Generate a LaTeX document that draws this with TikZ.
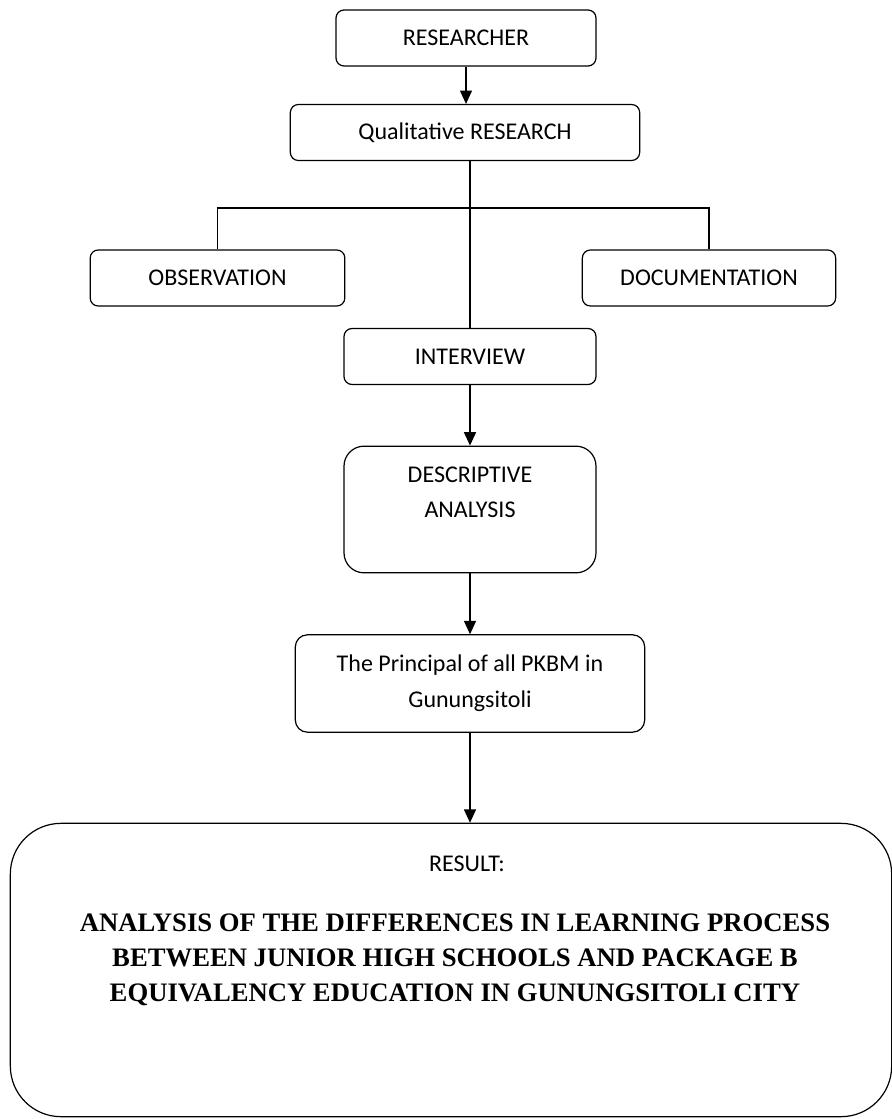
\documentclass[tikz,border=0pt]{standalone}
\usepackage{fontspec}
\setmainfont{Carlito}
\newfontfamily\titlefont{Liberation Serif}
\usetikzlibrary{positioning, arrows.meta}

\begin{document}
\begin{tikzpicture}[
  x=0.75pt, y=-0.75pt,
  every node/.style={font=\fontsize{18}{26}\selectfont},
  box/.style={draw, line width=0.9pt, rounded corners=6pt, align=center, minimum height=42pt, inner sep=0pt},
  tallbox/.style={box, rounded corners=15pt},
  resbox/.style={draw, line width=0.9pt, rounded corners=38pt, minimum width=661pt, minimum height=220pt},
  link/.style={line width=0.9pt},
  arr/.style={link, -{Triangle[length=10pt, width=9pt]}}
]
\useasboundingbox (0,0) rectangle (891,1119);
\node[box, minimum width=195pt] (res)  at (466, 38)    {RESEARCHER};
\node[box, minimum width=262pt] (qual) at (465, 132.5) {Qualitative RESEARCH};
\node[box, minimum width=191pt] (obs)  at (217.5, 278) {OBSERVATION};
\node[box, minimum width=190pt] (doc)  at (709, 278)   {DOCUMENTATION};
\node[box, minimum width=189pt] (intv) at (470, 356.5) {INTERVIEW};
\node[tallbox, minimum width=189pt, minimum height=95pt] (desc) at (470, 509.5)
  {DESCRIPTIVE\\ANALYSIS\\~};
\node[box, rounded corners=9pt, minimum width=262pt, minimum height=73pt,
  font=\fontsize{18}{27}\selectfont] (princ) at (470, 683.5)
  {The Principal of all PKBM in\\Gunungsitoli};
\node[resbox] (result) at (451, 970) {};
\node[anchor=north, inner sep=0pt] (reslabel) at (467, 856) {RESULT:};
\node[anchor=north, inner sep=0pt, align=center,
  font=\titlefont\bfseries\fontsize{20}{26.25}\selectfont] (restitle) at (455, 914)
  {ANALYSIS OF THE DIFFERENCES IN LEARNING PROCESS\\
   BETWEEN JUNIOR HIGH SCHOOLS AND PACKAGE B\\
   EQUIVALENCY EDUCATION IN GUNUNGSITOLI CITY};
\coordinate (split) at (470, 208);
\draw[arr] (res) -- (res |- qual.north);
\draw[link] (qual.south -| intv) -- (intv.north);
\draw[link] (obs.north) |- (split) -| (doc.north);
\draw[arr] (intv) -- (desc);
\draw[arr] (desc) -- (princ);
\draw[arr] (princ.south) -- (princ.south |- result.north);
\end{tikzpicture}
\end{document}
